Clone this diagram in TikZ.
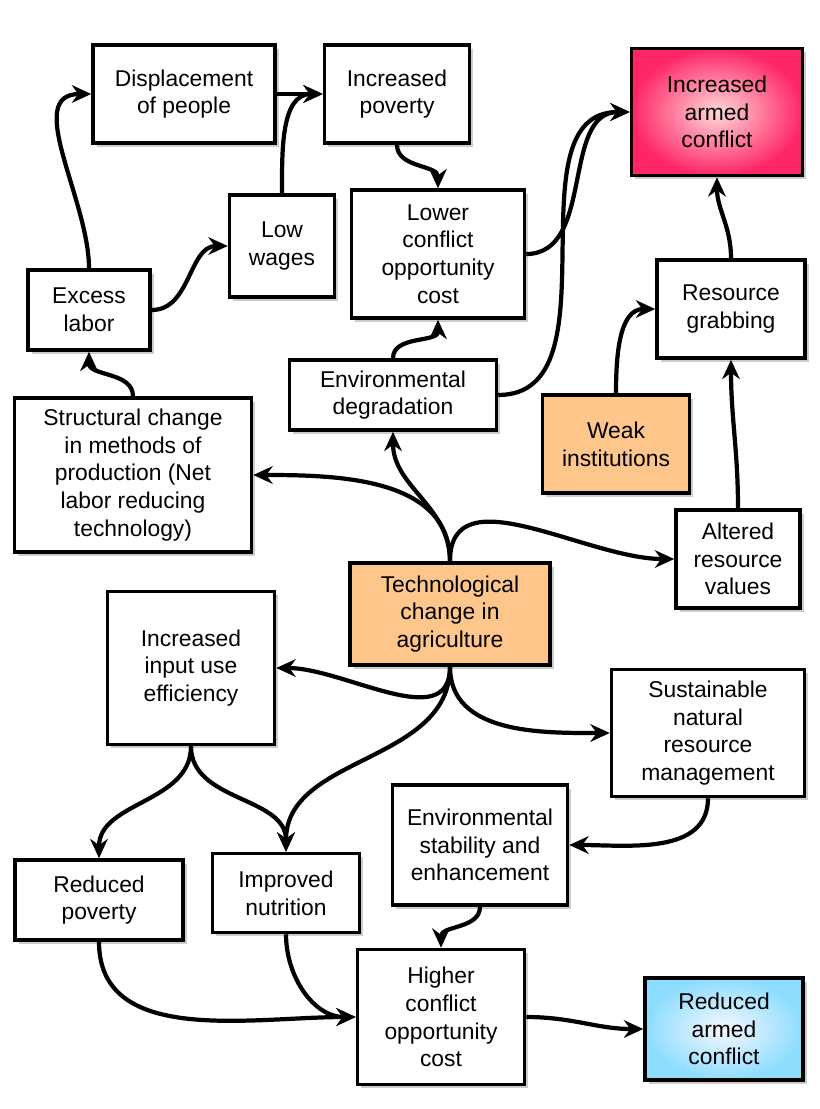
\documentclass[tikz,border=0pt]{standalone}
\usepackage{fontspec}
\setmainfont{Liberation Sans}
\usetikzlibrary{arrows.meta,shadows}
\begin{document}
\begin{tikzpicture}[
	x=0.02cm,y=-0.02cm,
	font=\fontsize{13}{15.8}\selectfont,
	bx/.style={draw,line width=2pt,fill=white,align=center,inner sep=2pt,
		drop shadow={shadow xshift=2pt,shadow yshift=-2pt,fill=black!40}},
	warm/.style={bx,fill=orange!45},
	hot/.style={bx,inner color=red!15,outer color=red!70!magenta!85!white},
	cool/.style={bx,inner color=blue!3,outer color=blue!30!cyan!45},
	ar/.style={line width=2.4pt,-{Stealth[length=11pt,width=10pt]}},
	]
\useasboundingbox (0,0) rectangle (820,1109);
% top half
\node [bx,minimum width=182*0.02cm,minimum height=98*0.02cm] (disp) at (184,94) {Displacement\\of people};
\node [bx,minimum width=145*0.02cm,minimum height=98*0.02cm] (pov) at (397,94) {Increased\\poverty};
\node [hot,minimum width=171*0.02cm,minimum height=127*0.02cm] (war) at (717,112) {Increased\\armed\\conflict};
\node [bx,minimum width=105*0.02cm,minimum height=102*0.02cm] (wage) at (282,246) {Low\\wages};
\node [bx,minimum width=173*0.02cm,minimum height=128*0.02cm] (loc) at (438,254) {Lower\\conflict\\opportunity\\cost};
\node [bx,minimum width=122*0.02cm,minimum height=80*0.02cm] (lab) at (89,310) {Excess\\labor};
\node [bx,minimum width=148*0.02cm,minimum height=98*0.02cm] (grab) at (731,309) {Resource\\grabbing};
\node [bx,minimum width=207*0.02cm,minimum height=70*0.02cm] (deg) at (393,395) {Environmental\\degradation};
\node [bx,minimum width=237*0.02cm,minimum height=154*0.02cm] (struc) at (133,475) {Structural change\\in methods of\\production (Net\\labor reducing\\technology)};
\node [warm,minimum width=147*0.02cm,minimum height=98*0.02cm] (weak) at (616,444) {Weak\\institutions};
\node [bx,minimum width=124*0.02cm,minimum height=98*0.02cm] (alt) at (738,559) {Altered\\resource\\values};
% bottom half
\node [warm,minimum width=200*0.02cm,minimum height=102*0.02cm] (tech) at (450,614) {Technological\\change in\\agriculture};
\node [bx,minimum width=167*0.02cm,minimum height=153*0.02cm] (eff) at (191,668) {Increased\\input use\\efficiency};
\node [bx,minimum width=193*0.02cm,minimum height=127*0.02cm] (snr) at (708,733) {Sustainable\\natural\\resource\\management};
\node [bx,minimum width=175*0.02cm,minimum height=120*0.02cm] (stab) at (480,845) {Environmental\\stability and\\enhancement};
\node [bx,minimum width=168*0.02cm,minimum height=80*0.02cm] (rpov) at (99,900) {Reduced\\poverty};
\node [bx,minimum width=147*0.02cm,minimum height=79*0.02cm] (nut) at (286,893) {Improved\\nutrition};
\node [bx,minimum width=167*0.02cm,minimum height=135*0.02cm] (hoc) at (441,1017) {Higher\\conflict\\opportunity\\cost};
\node [cool,minimum width=158*0.02cm,minimum height=102*0.02cm] (peace) at (724,1029) {Reduced\\armed\\conflict};
% connectors
\draw [ar] (lab.north) to[out=90,in=180] (disp.west);
\draw [ar] (lab.east) to[out=0,in=180] (wage.west);
\draw [ar] (disp.east) to[out=0,in=180] (pov.west);
\draw [ar] (wage.north) to[out=90,in=180] (pov.west);
\draw [ar] (pov.south) to[out=-90,in=90] (loc.north);
\draw [ar] (loc.east) to[out=0,in=180] (war.west);
\draw [ar] (deg.east) to[out=0,in=180] (war.west);
\draw [ar] (deg.north) to[out=90,in=-90] (loc.south);
\draw [ar] (struc.north) to[out=90,in=-90] (lab.south);
\draw [ar] (tech.north) to[out=90,in=0] (struc.east);
\draw [ar] (tech.north) to[out=90,in=-90] (deg.south);
\draw [ar] (tech.north) to[out=90,in=180] (alt.west);
\draw [ar] (alt.north) to[out=90,in=-90] (grab.south);
\draw [ar] (weak.north) to[out=90,in=180] (grab.west);
\draw [ar] (grab.north) to[out=90,in=-90] (war.south);
\draw [ar] (tech.south) to[out=-90,in=0] (eff.east);
\draw [ar] (tech.south) to[out=-90,in=180] (snr.west);
\draw [ar] (tech.south) to[out=-90,in=90] (nut.north);
\draw [ar] (eff.south) to[out=-90,in=90] (rpov.north);
\draw [ar] (eff.south) to[out=-90,in=90] (nut.north);
\draw [ar] (snr.south) to[out=-90,in=0] (stab.east);
\draw [ar] (stab.south) to[out=-90,in=90] (hoc.north);
\draw [ar] (rpov.south) to[out=-90,in=180] (hoc.west);
\draw [ar] (nut.south) to[out=-90,in=180] (hoc.west);
\draw [ar] (hoc.east) to[out=0,in=180] (peace.west);
\end{tikzpicture}
\end{document}
